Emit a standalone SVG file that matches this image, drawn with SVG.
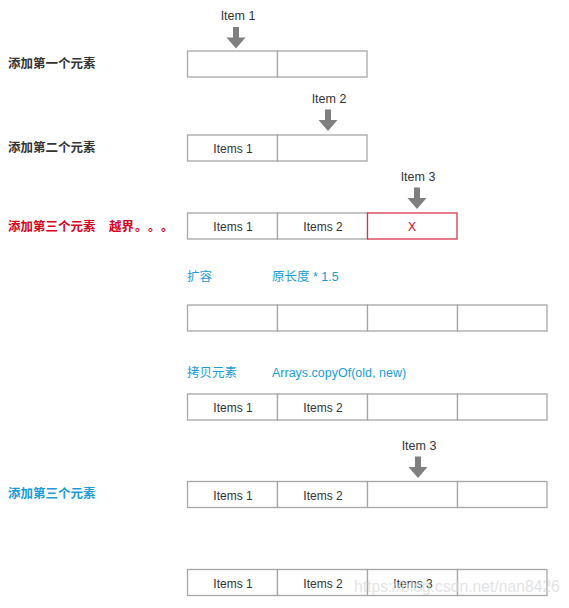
<svg xmlns="http://www.w3.org/2000/svg" width="569" height="608" viewBox="0 0 569 608">
<style>
text{font-family:"Liberation Sans","Noto Sans CJK SC",sans-serif}
.cell{fill:#fff;stroke:#a6a6a6;stroke-width:1.3}
.red{fill:#fff;stroke:#d9364b;stroke-width:1.3}
.ct{font-size:12px;fill:#333;text-anchor:middle}
.lb{font-size:12.5px;font-weight:bold;fill:#333}
.lbr{font-size:12.5px;font-weight:bold;fill:#d9001b}
.lbb{font-size:12.5px;font-weight:bold;fill:#1a9bd7}
.blue{font-size:12.5px;fill:#1a9bd7}
.it{font-size:12.5px;fill:#333;text-anchor:middle}
.arr{fill:#7f7f7f}
</style>
<defs>
<polygon id="arrow" points="-3,0 3,0 3,10.5 9.5,10.5 0,21.5 -9.5,10.5 -3,10.5"/>
</defs>

<g id="row1">
<text class="lb" x="8" y="68">添加第一个元素</text>
<rect class="cell" x="187.5" y="51" width="90" height="26"/>
<rect class="cell" x="277.5" y="51" width="89.5" height="26"/>
</g>
<g id="item1">
<text class="it" x="238" y="20">Item 1</text>
<use href="#arrow" class="arr" x="236" y="27"/>
</g>

<g id="row2">
<text class="lb" x="8" y="152">添加第二个元素</text>
<rect class="cell" x="187.5" y="135" width="90" height="26"/>
<rect class="cell" x="277.5" y="135" width="89.5" height="26"/>
<text class="ct" x="233" y="153">Items 1</text>
</g>
<g id="item2">
<text class="it" x="329" y="103">Item 2</text>
<use href="#arrow" class="arr" x="328" y="109.5"/>
</g>

<g id="row3">
<text class="lbr" x="8" y="231">添加第三个元素</text>
<text class="lbr" x="109" y="231">越界<tspan x="135">。</tspan><tspan x="148">。</tspan><tspan x="161">。</tspan></text>
<rect class="cell" x="187.5" y="213" width="90" height="26"/>
<rect class="cell" x="277.5" y="213" width="90" height="26"/>
<rect class="red" x="367.5" y="213" width="89.5" height="26"/>
<text class="ct" x="233" y="231">Items 1</text>
<text class="ct" x="323" y="231">Items 2</text>
<text class="ct" x="412" y="231" style="fill:#d9001b">X</text>
</g>
<g id="item3a">
<text class="it" x="418" y="181">Item 3</text>
<use href="#arrow" class="arr" x="417" y="187.5"/>
</g>

<g id="row4">
<text class="blue" x="187" y="281">扩容</text>
<text class="blue" x="272" y="281">原长度 * 1.5</text>
<rect class="cell" x="187.5" y="305" width="90" height="26"/>
<rect class="cell" x="277.5" y="305" width="90" height="26"/>
<rect class="cell" x="367.5" y="305" width="90" height="26"/>
<rect class="cell" x="457.5" y="305" width="89.5" height="26"/>
</g>

<g id="row5">
<text class="blue" x="187" y="377">拷贝元素</text>
<text class="blue" x="272" y="377">Arrays.copyOf(old, new)</text>
<rect class="cell" x="187.5" y="394" width="90" height="26"/>
<rect class="cell" x="277.5" y="394" width="90" height="26"/>
<rect class="cell" x="367.5" y="394" width="90" height="26"/>
<rect class="cell" x="457.5" y="394" width="89.5" height="26"/>
<text class="ct" x="233" y="412">Items 1</text>
<text class="ct" x="323" y="412">Items 2</text>
</g>

<g id="row6">
<text class="lbb" x="8" y="498">添加第三个元素</text>
<rect class="cell" x="187.5" y="481.5" width="90" height="26"/>
<rect class="cell" x="277.5" y="481.5" width="90" height="26"/>
<rect class="cell" x="367.5" y="481.5" width="90" height="26"/>
<rect class="cell" x="457.5" y="481.5" width="89.5" height="26"/>
<text class="ct" x="233" y="499.5">Items 1</text>
<text class="ct" x="323" y="499.5">Items 2</text>
</g>
<g id="item3b">
<text class="it" x="419" y="450">Item 3</text>
<use href="#arrow" class="arr" x="418" y="456.5"/>
</g>

<g id="row7">
<rect class="cell" x="187.5" y="569.5" width="90" height="26"/>
<rect class="cell" x="277.5" y="569.5" width="90" height="26"/>
<rect class="cell" x="367.5" y="569.5" width="90" height="26"/>
<rect class="cell" x="457.5" y="569.5" width="89.5" height="26"/>
<text class="ct" x="233" y="587.5">Items 1</text>
<text class="ct" x="323" y="587.5">Items 2</text>
<text class="ct" x="413" y="587.5">Items 3</text>
</g>

<g id="connectors"></g>

<text x="354" y="592" style="font-family:'Liberation Sans',sans-serif;font-size:15.7px;fill:#d8d8d8;opacity:0.7">https://blog.csdn.net/nan8426</text>
</svg>
